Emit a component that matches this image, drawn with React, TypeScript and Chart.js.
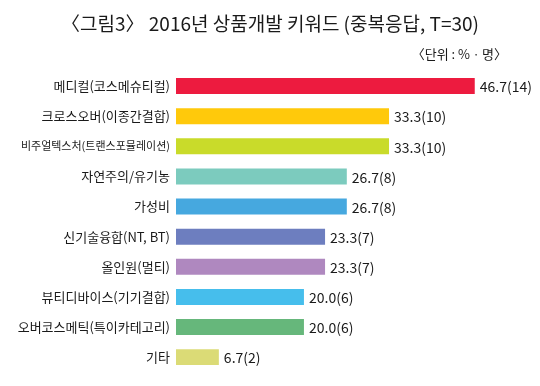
import React, { useEffect, useRef } from "react";
import { Chart, registerables } from "chart.js";

Chart.register(...registerables);

const TITLE = "〈그림3〉 2016년 상품개발 키워드 (중복응답, T=30)";
const SUBTITLE = "〈단위 : %ㆍ명〉";

const categories: string[] = [
  "메디컬(코스메슈티컬)",
  "크로스오버(이종간결합)",
  "비주얼텍스처(트랜스포뮬레이션)",
  "자연주의/유기농",
  "가성비",
  "신기술융합(NT, BT)",
  "올인원(멀티)",
  "뷰티디바이스(기기결합)",
  "오버코스메틱(특이카테고리)",
  "기타",
];

const percents: number[] = [46.7, 33.3, 33.3, 26.7, 26.7, 23.3, 23.3, 20.0, 20.0, 6.7];
const counts: number[] = [14, 10, 10, 8, 8, 7, 7, 6, 6, 2];

const colors: string[] = [
  "#ED1B3F",
  "#FFC90B",
  "#C9DB2A",
  "#7CCBBE",
  "#46A8DF",
  "#6D7EBF",
  "#AF88BF",
  "#46BEEC",
  "#66B77B",
  "#DBDB76",
];

const FONT = "'Noto Sans CJK KR', 'Noto Sans', sans-serif";
const TEXT = "#1a1a1a";

const headings = {
  id: "headings",
  afterDraw(chart: any) {
    const ctx = chart.ctx;
    ctx.save();
    ctx.fillStyle = TEXT;
    ctx.textBaseline = "middle";
    ctx.font = `19px ${FONT}`;
    ctx.textAlign = "center";
    ctx.fillText(TITLE, 270, 24);
    ctx.font = `13px ${FONT}`;
    ctx.textAlign = "right";
    ctx.fillText(SUBTITLE, 507, 54);
    ctx.restore();
  },
};

const valueLabels = {
  id: "valueLabels",
  afterDatasetsDraw(chart: any) {
    const ctx = chart.ctx;
    const meta = chart.getDatasetMeta(0);
    ctx.save();
    ctx.font = `14px ${FONT}`;
    ctx.fillStyle = TEXT;
    ctx.textAlign = "left";
    ctx.textBaseline = "middle";
    meta.data.forEach((bar: any, i: number) => {
      const txt = `${percents[i].toFixed(1)}(${counts[i]})`;
      ctx.fillText(txt, bar.x + 5, bar.y + 1);
    });
    ctx.restore();
  },
};

export default function App() {
  const ref = useRef<HTMLCanvasElement>(null);

  useEffect(() => {
    document.body.style.margin = "0";
    const canvas = ref.current;
    if (!canvas) return;
    const chart = new Chart(canvas, {
      type: "bar",
      data: {
        labels: categories,
        datasets: [
          {
            data: percents,
            backgroundColor: colors,
            borderWidth: 0,
            categoryPercentage: 1,
            barPercentage: 0.53,
          },
        ],
      },
      options: {
        indexAxis: "y",
        animation: false,
        responsive: true,
        maintainAspectRatio: false,
        layout: { padding: { left: 0, right: 0, top: 71, bottom: 7 } },
        plugins: {
          legend: { display: false },
          tooltip: { enabled: false },
          title: { display: false },
        },
        scales: {
          x: {
            display: false,
            min: 0,
            max: 56.9,
          },
          y: {
            afterFit: (scale: any) => {
              scale.width = 176;
            },
            grid: { display: false, drawTicks: false },
            border: { display: false },
            ticks: {
              padding: 6,
              color: TEXT,
              font: (ctx: any) => {
                const label = categories[ctx.index] || "";
                return {
                  family: FONT,
                  size: label.length > 15 ? 11 : 13,
                };
              },
            },
          },
        },
      },
      plugins: [valueLabels, headings],
    });
    return () => chart.destroy();
  }, []);

  return (
    <div style={{ width: 540, height: 386, position: "relative", background: "#fff" }}>
      <canvas ref={ref} />
    </div>
  );
}
